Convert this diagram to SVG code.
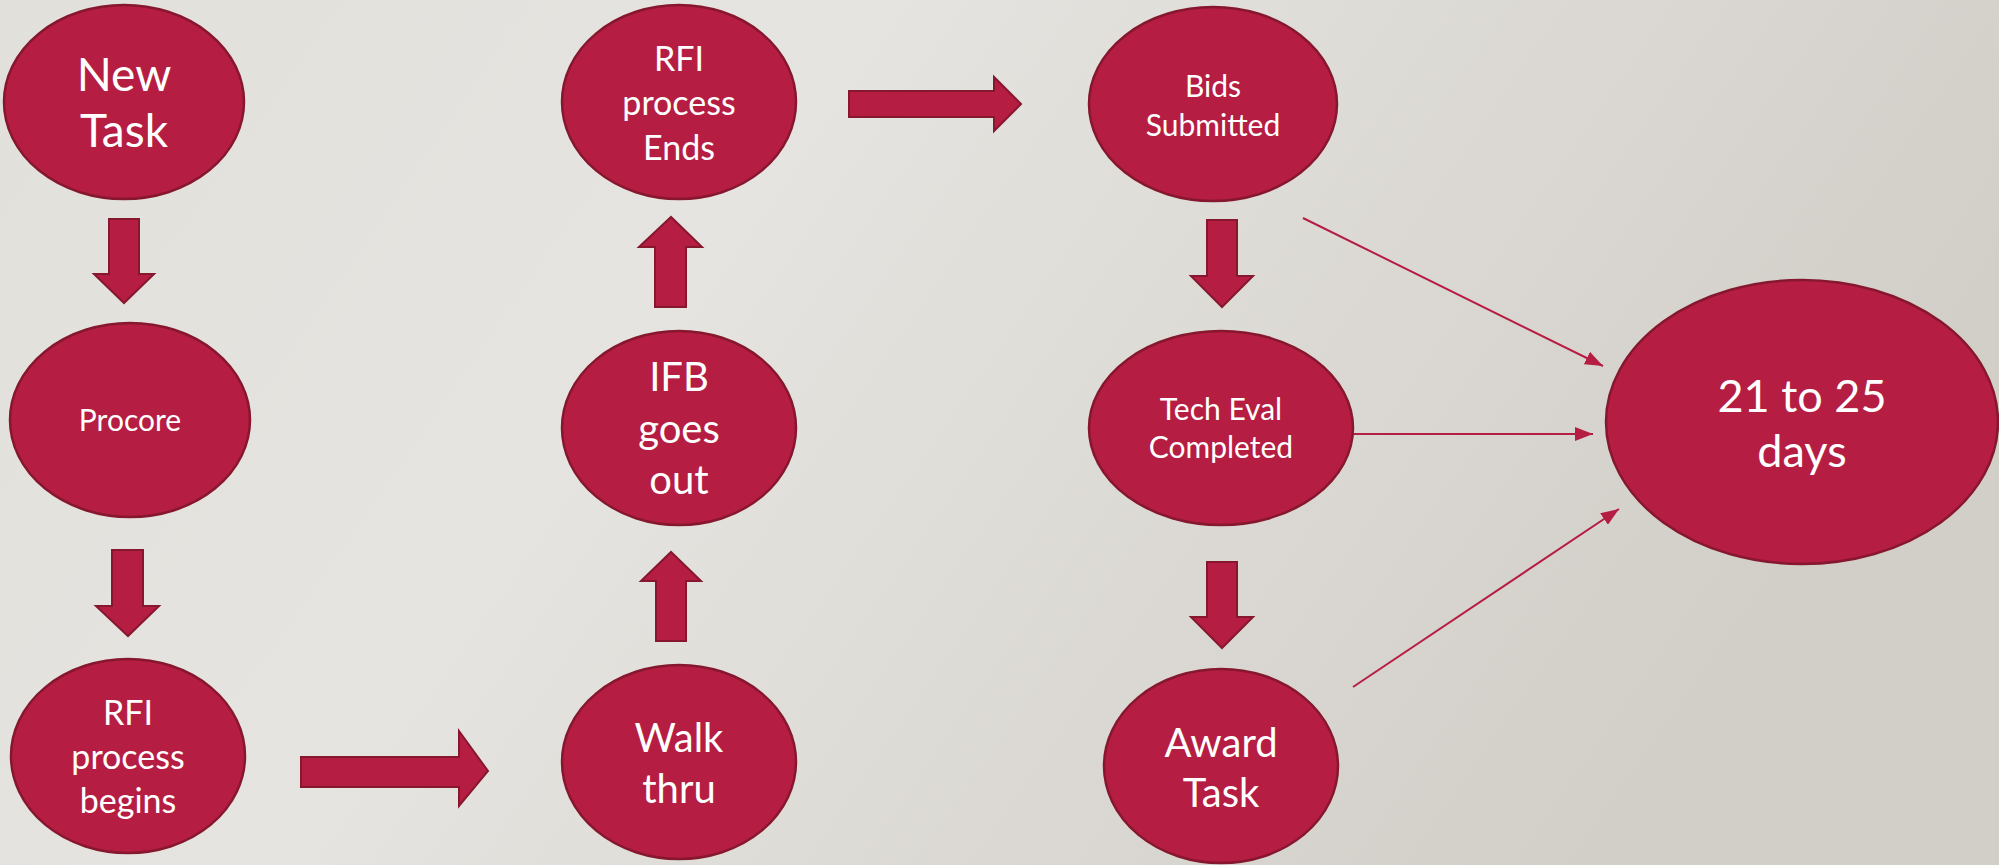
<svg xmlns="http://www.w3.org/2000/svg" width="1999" height="865" viewBox="0 0 1999 865">
<defs>
<linearGradient id="bg" x1="0" y1="0" x2="1" y2="0.3">
<stop offset="0" stop-color="#E2E0DB"/>
<stop offset="0.4" stop-color="#E6E4E0"/>
<stop offset="1" stop-color="#D2CFC9"/>
</linearGradient>
<marker id="ah" markerWidth="18" markerHeight="14" refX="18" refY="7" orient="auto" markerUnits="userSpaceOnUse" viewBox="0 0 18 14">
<path d="M0,0 L18,7 L0,14 Z" fill="#B61D42"/>
</marker>
<style>
.node{fill:#B61D42;stroke:#86172F;stroke-width:2.5}
.blk{fill:#B61D42;stroke:#86172F;stroke-width:2}
.ln{stroke:#B61D42;stroke-width:2;fill:none}
text{fill:#FFFFFF;font-family:Lato,"Open Sans","Liberation Sans",sans-serif;text-anchor:middle}
.xl{font-size:46px}
.xxl{font-size:45px}
.l{font-size:40px}
.m{font-size:34px}
.s{font-size:30px}
</style>
</defs>
<rect x="0" y="0" width="1999" height="865" fill="url(#bg)"/>

<g id="connectors">
<path class="blk" d="M109,219 H139 V274 H154 L124,303 L94,274 H109 Z"/>
<path class="blk" d="M112,550 H143 V606 H159 L128,636 L96,606 H112 Z"/>
<path class="blk" d="M301,757 H459 V731 L488,771 L459,806 V787 H301 Z"/>
<path class="blk" d="M656,641 V581 H641 L671,552 L701,581 H686 V641 Z"/>
<path class="blk" d="M655,307 V247 H639 L671,217 L702,247 H686 V307 Z"/>
<path class="blk" d="M849,91 H994 V77 L1021,104 L994,131 V117 H849 Z"/>
<path class="blk" d="M1207,220 H1237 V276 H1253 L1222,307 L1191,276 H1207 Z"/>
<path class="blk" d="M1207,562 H1237 V617 H1253 L1222,648 L1191,617 H1207 Z"/>
<line class="ln" x1="1303" y1="218" x2="1603" y2="366" marker-end="url(#ah)"/>
<line class="ln" x1="1353" y1="434" x2="1593" y2="434" marker-end="url(#ah)"/>
<line class="ln" x1="1353" y1="687" x2="1619" y2="509" marker-end="url(#ah)"/>
</g>

<g id="new-task"><ellipse class="node" cx="124" cy="102" rx="120" ry="97"/>
<text class="xl" x="124" y="91">New</text><text class="xl" x="124" y="147">Task</text></g>

<g id="procore"><ellipse class="node" cx="130" cy="420" rx="120" ry="97"/>
<text class="s" x="130" y="431">Procore</text></g>

<g id="rfi-begins"><ellipse class="node" cx="128" cy="756" rx="117" ry="97"/>
<text class="m" x="128" y="725">RFI</text><text class="m" x="128" y="769">process</text><text class="m" x="128" y="813">begins</text></g>

<g id="walk-thru"><ellipse class="node" cx="679" cy="762" rx="117" ry="97"/>
<text class="l" x="679" y="752">Walk</text><text class="l" x="679" y="803">thru</text></g>

<g id="ifb"><ellipse class="node" cx="679" cy="428" rx="117" ry="97"/>
<text class="l" x="679" y="391">IFB</text><text class="l" x="679" y="443">goes</text><text class="l" x="679" y="494">out</text></g>

<g id="rfi-ends"><ellipse class="node" cx="679" cy="102" rx="117" ry="97"/>
<text class="m" x="679" y="71">RFI</text><text class="m" x="679" y="115">process</text><text class="m" x="679" y="160">Ends</text></g>

<g id="bids"><ellipse class="node" cx="1213" cy="104" rx="124" ry="97"/>
<text class="s" x="1213" y="97">Bids</text><text class="s" x="1213" y="136">Submitted</text></g>

<g id="tech-eval"><ellipse class="node" cx="1221" cy="428" rx="132" ry="97"/>
<text class="s" x="1221" y="420">Tech Eval</text><text class="s" x="1221" y="458">Completed</text></g>

<g id="award"><ellipse class="node" cx="1221" cy="766" rx="117" ry="97"/>
<text class="l" x="1221" y="757">Award</text><text class="l" x="1221" y="807">Task</text></g>

<g id="days"><ellipse class="node" cx="1802" cy="422" rx="196" ry="142"/>
<text class="xxl" x="1802" y="412">21 to 25</text><text class="xxl" x="1802" y="467">days</text></g>
</svg>
